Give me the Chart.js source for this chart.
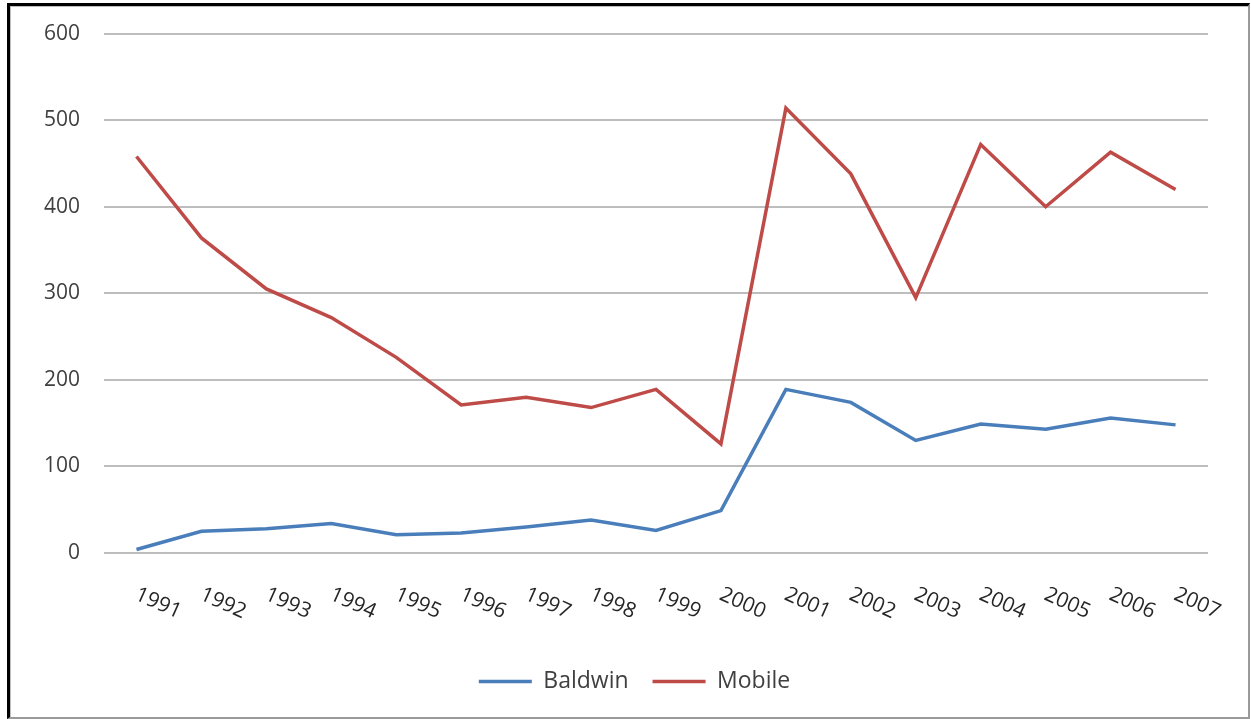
<!DOCTYPE html>
<html>
<head>
<meta charset="utf-8">
<script src="https://cdn.jsdelivr.net/npm/chart.js@4/dist/chart.umd.min.js"></script>
<style>
  html, body { margin: 0; padding: 0; background: #ffffff; }
  #frame {
    position: absolute; left: 7px; top: 3px; width: 1238px; height: 711px;
    border-left: 3px solid #000; border-top: 3px solid #000;
    border-right: 2px solid #9a9a9a; border-bottom: 2px solid #9a9a9a;
    box-shadow: inset 1px 1px 0 #bdbdbd;
    background: #fff;
  }
  #wrap { position: absolute; left: 0; top: 0; width: 1238px; height: 711px; }
</style>
</head>
<body>
<div id="frame"><div id="wrap"><canvas id="c"></canvas></div></div>
<script>
const years = ['1991','1992','1993','1994','1995','1996','1997','1998','1999','2000','2001','2002','2003','2004','2005','2006','2007'];
const baldwin = [4, 25, 28, 34, 21, 23, 30, 38, 26, 49, 189, 174, 130, 149, 143, 156, 148];
const mobile = [458, 364, 305, 272, 226, 171, 180, 168, 189, 126, 514, 438, 295, 472, 400, 463, 420];
const yTicks = [0, 100, 200, 300, 400, 500, 600];

const FONT = '"Open Sans", "Liberation Sans", sans-serif';

const slantedLabels = {
  id: 'slantedLabels',
  afterDraw(chart) {
    const xs = chart.scales.x;
    const ctx = chart.ctx;
    ctx.save();
    ctx.font = '21px ' + FONT;
    ctx.fillStyle = '#262626';
    ctx.textAlign = 'left';
    ctx.textBaseline = 'top';
    const y0 = chart.chartArea.bottom + 31;
    years.forEach((lab, i) => {
      const x = xs.getPixelForTick(i);
      ctx.save();
      ctx.translate(x + 4, y0);
      ctx.rotate(24 * Math.PI / 180);
      ctx.fillText(lab, 0, 0);
      ctx.restore();
    });
    ctx.restore();
  }
};

new Chart(document.getElementById('c'), {
  type: 'line',
  data: {
    labels: years,
    datasets: [
      { label: 'Baldwin', data: baldwin, borderColor: '#4a7ebb', backgroundColor: '#4a7ebb', borderWidth: 3.5, pointRadius: 0, tension: 0 },
      { label: 'Mobile', data: mobile, borderColor: '#be4b48', backgroundColor: '#be4b48', borderWidth: 3.5, pointRadius: 0, tension: 0 }
    ]
  },
  options: {
    responsive: true,
    maintainAspectRatio: false,
    animation: false,
    layout: { padding: { left: 28, right: 17, top: 0, bottom: 14 } },
    plugins: {
      legend: {
        position: 'bottom',
        labels: {
          usePointStyle: true,
          pointStyle: 'line',
          pointStyleWidth: 53,
          boxHeight: 22,
          font: { family: FONT, size: 23 },
          color: '#404040',
          padding: 24
        }
      },
      tooltip: { enabled: false }
    },
    scales: {
      x: {
        offset: true,
        grid: { display: false },
        border: { display: false },
        ticks: { display: false },
        afterFit(s) { s.height = 93; }
      },
      y: {
        min: 0, max: 600,
        afterBuildTicks(s) { s.ticks = yTicks.map(v => ({ value: v })); },
        grid: { color: '#bdbdbd', lineWidth: 2, drawTicks: true, tickLength: 9, tickColor: 'rgba(0,0,0,0)' },
        border: { display: false },
        ticks: { font: { family: FONT, size: 21 }, color: '#404040', padding: 15 },
        afterFit(s) { s.width = 66; }
      },
      yRightSpace: {
        position: 'right',
        min: 0, max: 600,
        grid: { display: false, drawTicks: false },
        border: { display: false },
        ticks: { display: false },
        afterFit(s) { s.width = 23; }
      }
    }
  },
  plugins: [slantedLabels]
});
</script>
</body>
</html>
